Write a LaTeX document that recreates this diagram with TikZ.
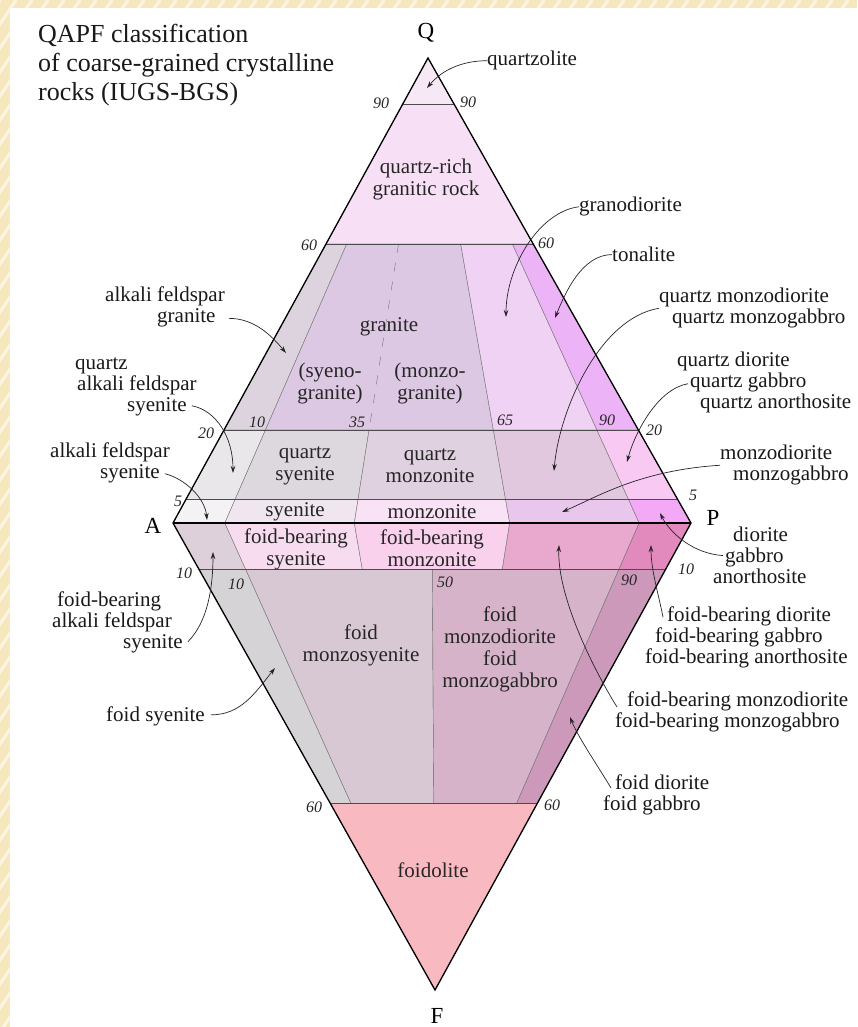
\documentclass[tikz,border=0pt]{standalone}
\usepackage{fontspec}
\setmainfont{Liberation Serif}
\usetikzlibrary{arrows.meta,calc}
% frame and field colours
\definecolor{frameyel}{HTML}{F7E7BC}
\definecolor{cQzl}{HTML}{F6E9F5}
\definecolor{cQrich}{HTML}{F7E0F6}
\definecolor{cAfGr}{HTML}{DDD3DF}
\definecolor{cGr}{HTML}{DCC8E3}
\definecolor{cGd}{HTML}{F0D2F4}
\definecolor{cTo}{HTML}{ECB3F6}
\definecolor{cQAfs}{HTML}{EAE7EA}
\definecolor{cQSy}{HTML}{DDD7DE}
\definecolor{cQMz}{HTML}{DFD1DF}
\definecolor{cQMd}{HTML}{E2C8DF}
\definecolor{cQDi}{HTML}{F8C9F3}
\definecolor{cAfs}{HTML}{F4F2F4}
\definecolor{cSy}{HTML}{F0E6EF}
\definecolor{cMz}{HTML}{F9E1F6}
\definecolor{cMd}{HTML}{E9C6EC}
\definecolor{cDi}{HTML}{F3A9F5}
\definecolor{cFbAfs}{HTML}{DED0DA}
\definecolor{cFbSy}{HTML}{F7DCEF}
\definecolor{cFbMz}{HTML}{F9D1EC}
\definecolor{cFbMd}{HTML}{E9A9CF}
\definecolor{cFbDi}{HTML}{E289BE}
\definecolor{cFSy}{HTML}{D6D3D6}
\definecolor{cFMs}{HTML}{D7C8D3}
\definecolor{cFMd}{HTML}{D7B3C9}
\definecolor{cFDi}{HTML}{CC99BB}
\definecolor{cFdl}{HTML}{F8B9C1}
\tikzset{
  % thin field boundaries
  fieldln/.style={draw=black!55, line width=0.4pt},
  % horizontal percentage levels
  levelln/.style={draw=black!70, line width=0.8pt},
  % outline of the double triangle
  outerln/.style={draw=black, line width=1.3pt, line join=miter},
  % texts
  titlelbl/.style={font=\fontsize{26}{29}\selectfont, inner sep=0pt, align=left, text=black!90},
  rocklbl/.style={font=\fontsize{21}{21}\selectfont, inner sep=0pt, align=left, anchor=north west, text=black!90},
  fieldlbl/.style={font=\fontsize{21}{22}\selectfont, inner sep=0pt, align=center, text=black!85},
  pctlbl/.style={font=\fontsize{16}{16}\selectfont\itshape, inner sep=0pt, text=black!85},
  cornerlbl/.style={font=\fontsize{23}{23}\selectfont, inner sep=0pt},
  % pointer arrows
  pointer/.style={-{Stealth[length=7pt,width=4.5pt]}, line width=0.7pt, black!85},
}
% point at Q-level #1 and P/(A+P) ratio #2, upper and lower triangle
\newcommand\upt[2]{({428*#1+(1-#1)*(173+518*#2)},{58*#1+523*(1-#1)})}
\newcommand\lpt[2]{({435*#1+(1-#1)*(173+518*#2)},{990*#1+523*(1-#1)})}

\begin{document}
\begin{tikzpicture}[x=1pt, y=-1pt]
  \useasboundingbox (0,0) rectangle (857,1027);
  % --- striped frame and white sheet ---
  \fill[frameyel] (0,0) rectangle (857,1027);
  \begin{scope}
    \clip (0,0) rectangle (857,8) (0,0) rectangle (10,1027);
    \foreach \s in {0,16,...,1700}
      \draw[white!60!frameyel, line width=3pt] (\s,0) -- (\s-700,1050);
  \end{scope}
  \fill[white] (10,8) rectangle (857,1027);

  \coordinate (Q) at (428,58);
  \coordinate (A) at (173,523);
  \coordinate (P) at (691,523);
  \coordinate (F) at (435,990);

  % --- QAP fields ---
  \foreach \qa/\qb/\ra/\rb/\col in {
      0.9/1/0/1/cQzl, 0.6/0.9/0/1/cQrich,
      0.2/0.6/0/0.1/cAfGr, 0.2/0.6/0.1/0.65/cGr, 0.2/0.6/0.65/0.9/cGd, 0.2/0.6/0.9/1/cTo,
      0.05/0.2/0/0.1/cQAfs, 0.05/0.2/0.1/0.35/cQSy, 0.05/0.2/0.35/0.65/cQMz,
      0.05/0.2/0.65/0.9/cQMd, 0.05/0.2/0.9/1/cQDi,
      0/0.05/0/0.1/cAfs, 0/0.05/0.1/0.35/cSy, 0/0.05/0.35/0.65/cMz,
      0/0.05/0.65/0.9/cMd, 0/0.05/0.9/1/cDi}
    \filldraw[fieldln, fill=\col] \upt{\qa}{\ra} -- \upt{\qb}{\ra} -- \upt{\qb}{\rb} -- \upt{\qa}{\rb} -- cycle;
  % --- FAP fields ---
  \foreach \fa/\fb/\ra/\rb/\col in {
      0/0.1/0/0.1/cFbAfs, 0/0.1/0.1/0.35/cFbSy, 0/0.1/0.35/0.65/cFbMz,
      0/0.1/0.65/0.9/cFbMd, 0/0.1/0.9/1/cFbDi,
      0.1/0.6/0/0.1/cFSy, 0.1/0.6/0.1/0.5/cFMs, 0.1/0.6/0.5/0.9/cFMd, 0.1/0.6/0.9/1/cFDi,
      0.6/1/0/1/cFdl}
    \filldraw[fieldln, fill=\col] \lpt{\fa}{\ra} -- \lpt{\fb}{\ra} -- \lpt{\fb}{\rb} -- \lpt{\fa}{\rb} -- cycle;

  % syenogranite | monzogranite
  \draw[fieldln, dash pattern=on 9pt off 10pt] \upt{0.6}{0.35} -- \upt{0.2}{0.35};
  % percentage levels
  \foreach \q in {0.9,0.6,0.2,0.05}
    \draw[levelln] \upt{\q}{0} -- \upt{\q}{1};
  \foreach \f in {0.1,0.6}
    \draw[levelln] \lpt{\f}{0} -- \lpt{\f}{1};
  \draw[outerln] (Q) -- (P) -- (F) -- (A) -- cycle;
  \draw[outerln] (A) -- (P);

  % --- corners and title ---
  \node[cornerlbl] (labQ) at (426,33) {Q};
  \node[cornerlbl] (labA) at (153,526) {A};
  \node[cornerlbl] (labP) at (713,518) {P};
  \node[cornerlbl] (labF) at (437,1016) {F};
  \node[titlelbl, anchor=north west] (title) at (38,24)
    {QAPF classification\\of coarse-grained crystalline\\rocks (IUGS-BGS)};

  % --- percentages ---
  \node[pctlbl] (p90l) at (381,103) {90};
  \node[pctlbl] (p90r) at (468,102) {90};
  \node[pctlbl] (p60l) at (309,245) {60};
  \node[pctlbl] (p60r) at (546,243) {60};
  \node[pctlbl] (p10a) at (257,422) {10};
  \node[pctlbl] (p35) at (357,422) {35};
  \node[pctlbl] (p65) at (505,420) {65};
  \node[pctlbl] (p90a) at (607,420) {90};
  \node[pctlbl] (p20l) at (206,433) {20};
  \node[pctlbl] (p20r) at (654,430) {20};
  \node[pctlbl] (p5l) at (178,501) {5};
  \node[pctlbl] (p5r) at (693,495) {5};
  \node[pctlbl] (p10l) at (184,573) {10};
  \node[pctlbl] (p10r) at (686,569) {10};
  \node[pctlbl] (p10b) at (236,584) {10};
  \node[pctlbl] (p50) at (445,582) {50};
  \node[pctlbl] (p90b) at (629,580) {90};
  \node[pctlbl] (p60lb) at (314,807) {60};
  \node[pctlbl] (p60rb) at (552,805) {60};

  % --- names inside the fields ---
  \node[fieldlbl] (qrich) at (426,179) {quartz-rich\\granitic rock};
  \node[fieldlbl] (gran) at (389,327) {granite};
  \node[fieldlbl] (syenogr) at (330,383) {(syeno-\\granite)};
  \node[fieldlbl] (monzogr) at (430,383) {(monzo-\\granite)};
  \node[fieldlbl] (qsy) at (305,466) {quartz\\syenite};
  \node[fieldlbl] (qmz) at (430,466) {quartz\\monzonite};
  \node[fieldlbl] (sy) at (295,512) {syenite};
  \node[fieldlbl] (mz) at (432,512) {monzonite};
  \node[fieldlbl] (fbsy) at (296,549) {foid-bearing\\syenite};
  \node[fieldlbl] (fbmz) at (432,548) {foid-bearing\\monzonite};
  \node[fieldlbl] (fmzsy) at (361,645) {foid\\monzosyenite};
  \node[fieldlbl] (fmzd) at (500,649) {foid\\monzodiorite\\foid\\monzogabbro};
  \node[fieldlbl] (fdl) at (433,870) {foidolite};

  % --- arrow tips ---
  \coordinate (tQzl) at (427,88);
  \coordinate (tGd) at (506,317);
  \coordinate (tTo) at (555,318);
  \coordinate (tQMd) at (554,471);
  \coordinate (tQDi) at (627,462);
  \coordinate (tMd) at (562,512);
  \coordinate (tDi) at (660,513);
  \coordinate (tFbDi) at (651,545);
  \coordinate (tFbMd) at (559,545);
  \coordinate (tFDi) at (570,717);
  \coordinate (tAfGr) at (286,353);
  \coordinate (tQAfs) at (233,473);
  \coordinate (tAfs) at (207,520);
  \coordinate (tFbAfs) at (213,552);
  \coordinate (tFSy) at (275,668);

  % --- names outside, right ---
  \node[rocklbl] (qzlite) at (487,51) {quartzolite};
  \node[rocklbl] (granod) at (579,197) {granodiorite};
  \node[rocklbl] (tonal) at (612,247) {tonalite};
  \node[rocklbl] (qmzd) at (659,288) {quartz monzodiorite\\\hspace*{13pt}quartz monzogabbro};
  \node[rocklbl] (qdio) at (677,352) {quartz diorite\\\hspace*{13pt}quartz gabbro\\\hspace*{23pt}quartz anorthosite};
  \node[rocklbl] (mzd) at (720,445) {monzodiorite\\\hspace*{13pt}monzogabbro};
  \node[rocklbl] (dio) at (713,527) {\hspace*{20pt}diorite\\\hspace*{12pt}gabbro\\anorthosite};
  \node[rocklbl] (fbdio) at (645,607) {\hspace*{22pt}foid-bearing diorite\\\hspace*{10pt}foid-bearing gabbro\\foid-bearing anorthosite};
  \node[rocklbl] (fbmzd) at (615,692) {\hspace*{12pt}foid-bearing monzodiorite\\foid-bearing monzogabbro};
  \node[rocklbl] (fdio) at (603,775) {\hspace*{12pt}foid diorite\\foid gabbro};
  % --- names outside, left ---
  \node[rocklbl] (afgr) at (105,287) {alkali feldspar\\\hspace*{52pt}granite};
  \node[rocklbl] (qafs) at (75,357) {quartz\\\hspace*{2pt}alkali feldspar\\\hspace*{52pt}syenite};
  \node[rocklbl] (afs) at (50,443) {alkali feldspar\\\hspace*{50pt}syenite};
  \node[rocklbl] (fbafs) at (52,592) {\hspace*{5pt}foid-bearing\\alkali feldspar\\\hspace*{71pt}syenite};
  \node[rocklbl] (fsy) at (106,707) {foid syenite};

  % --- pointers ---
  \draw[pointer] (qzlite.west) .. controls +(-25,0) and +(15,-18) .. (tQzl);
  \draw[pointer] (granod.west) .. controls +(-40,5) and +(0,-50) .. (tGd);
  \draw[pointer] (tonal.west) .. controls +(-30,0) and +(10,-25) .. (tTo);
  \draw[pointer] (qmzd.west) .. controls +(-60,10) and +(5,-60) .. (tQMd);
  \draw[pointer] ($(qdio.west)+(11,1)$) .. controls +(-30,5) and +(8,-30) .. (tQDi);
  \draw[pointer] (mzd.west) .. controls +(-80,5) and +(35,-15) .. (tMd);
  \draw[pointer] ($(dio.west)+(10,0)$) .. controls +(-30,-2) and +(10,20) .. (tDi);
  \draw[pointer] ($(fbdio.north west)+(18,10)$) .. controls +(-5,-25) and +(0,25) .. (tFbDi);
  \draw[pointer] ($(fbmzd.north west)+(2,15)$) .. controls +(-25,-40) and +(-2,50) .. (tFbMd);
  \draw[pointer] ($(fdio.north west)+(8,13)$) .. controls +(-15,-25) and +(8,20) .. (tFDi);
  \draw[pointer] ($(afgr.east)+(4,11)$) .. controls +(25,0) and +(-15,-18) .. (tAfGr);
  \draw[pointer] ($(qafs.south east)+(-5,-10)$) .. controls +(25,5) and +(0,-35) .. (tQAfs);
  \draw[pointer] ($(afs.south east)+(-5,-10)$) .. controls +(20,5) and +(-2,-22) .. (tAfs);
  \draw[pointer] ($(fbafs.south east)+(5,-12)$) .. controls +(20,-20) and +(0,35) .. (tFbAfs);
  \draw[pointer] ($(fsy.east)+(6,-2)$) .. controls +(30,0) and +(-20,25) .. (tFSy);
\end{tikzpicture}
\end{document}
